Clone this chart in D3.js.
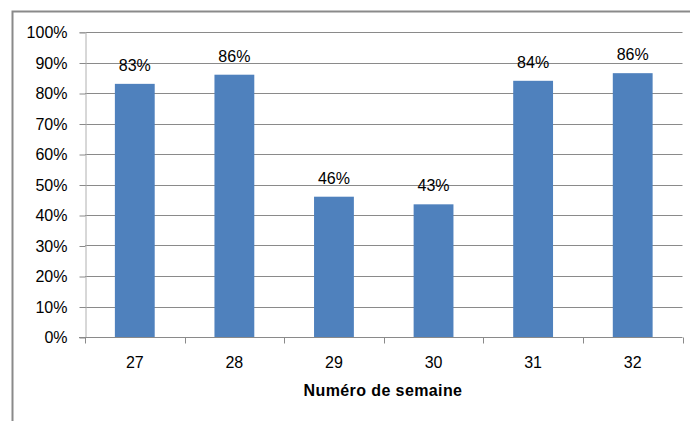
<!DOCTYPE html>
<html><head><meta charset="utf-8">
<script src="https://cdn.jsdelivr.net/npm/d3@7/dist/d3.min.js"></script>
<style>body{margin:0;background:#fff}svg{display:block}text{font-family:"Liberation Sans",Arial,sans-serif;fill:#000}</style>
</head><body><svg id="c" width="690" height="421"></svg>
<script>
const categories = ["27","28","29","30","31","32"];
const values = [0.83, 0.86, 0.46, 0.435, 0.84, 0.865];
const labels = ["83%","86%","46%","43%","84%","86%"];
const yTicks = [0,0.1,0.2,0.3,0.4,0.5,0.6,0.7,0.8,0.9,1.0];
const xTitle = "Numéro de semaine";

const svg = d3.select("#c");
const grey = "#8a8a8a";
const fs = 16;
// outer border
svg.append("path").attr("d","M12.5,421 L12.5,11.5 L690,11.5").attr("fill","none").attr("stroke",grey).attr("stroke-width",2);

const x = d3.scaleBand().domain(categories).range([85,682.5]).paddingInner(0.6).paddingOuter(0.3);
const y = d3.scaleLinear().domain([0,1]).range([337,32]);

// gridlines
svg.append("g").selectAll("line").data(yTicks.slice(1)).join("line")
  .attr("x1",85).attr("x2",682.5).attr("y1",d=>Math.round(y(d))+0.5).attr("y2",d=>Math.round(y(d))+0.5)
  .attr("stroke",grey).attr("stroke-width",1);

// y axis
const ya = svg.append("g").attr("transform","translate(85.5,0)")
  .call(d3.axisLeft(y).tickValues(yTicks).tickFormat(d3.format(".0%")).tickSize(6).tickPadding(12));
ya.select(".domain").attr("stroke","#b0b0b0");
ya.selectAll(".tick line").attr("stroke",grey).attr("transform","translate(0,0.5)");
ya.selectAll(".tick text").attr("font-size",fs).attr("font-family",'"Liberation Sans",Arial,sans-serif').attr("fill","#000").attr("dy","0.35em");

// bars
svg.append("g").selectAll("rect").data(values).join("rect")
  .attr("x",(d,i)=>x(categories[i])).attr("width",x.bandwidth())
  .attr("y",d=>y(d)).attr("height",d=>y(0)-y(d)).attr("fill","#4F81BD");

// x axis
const bw = x.step();
const xa = svg.append("g").attr("transform","translate(0,337.5)");
xa.append("line").attr("x1",79).attr("x2",682.5).attr("stroke",grey);
xa.selectAll("line.t").data(d3.range(categories.length+1)).join("line").attr("class","t")
  .attr("x1",d=>Math.round(85+d*bw)+0.5).attr("x2",d=>Math.round(85+d*bw)+0.5).attr("y1",0).attr("y2",6).attr("stroke",grey);
xa.selectAll("text").data(categories).join("text")
  .attr("x",d=>x(d)+x.bandwidth()/2).attr("y",30).attr("text-anchor","middle").attr("font-size",fs).text(d=>d);

// data labels
svg.append("g").selectAll("text").data(values).join("text")
  .attr("x",(d,i)=>x(categories[i])+x.bandwidth()/2).attr("y",d=>y(d)-13)
  .attr("text-anchor","middle").attr("font-size",fs).text((d,i)=>labels[i]);

// axis title
svg.append("text").attr("x",383).attr("y",396).attr("text-anchor","middle")
  .attr("font-size",16).attr("letter-spacing","0.4px").attr("font-weight","bold").text(xTitle);
</script></body></html>
